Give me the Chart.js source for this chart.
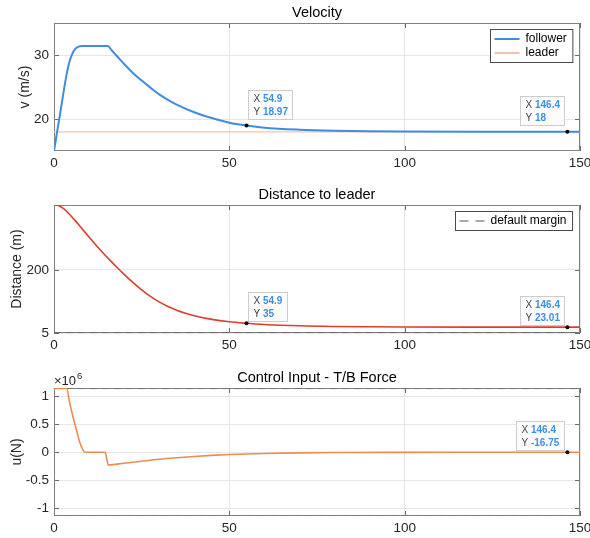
<!DOCTYPE html>
<html>
<head>
<meta charset="utf-8">
<script src="https://cdn.jsdelivr.net/npm/chart.js@4.4.0/dist/chart.umd.min.js"></script>
<style>
  body { margin: 0; background: #fff; }
  .panel { position: absolute; left: 0; width: 590px; }
  canvas { display: block; }
</style>
</head>
<body>
<div class="panel" style="top:0px"><canvas id="velChart" width="590" height="172"></canvas></div>
<div class="panel" style="top:168px"><canvas id="distChart" width="590" height="184"></canvas></div>
<div class="panel" style="top:350px"><canvas id="ctrlChart" width="590" height="188"></canvas></div>
<script>
const xTicks = [0, 50, 100, 150];

// velocity panel
const velTime = [0, 2, 3.5, 4.2, 5, 6, 7, 8, 15.3, 16.5, 18, 20, 22.5, 25, 27.5, 30, 32.5, 35, 40, 45, 50, 54.9, 60, 70, 80, 90, 100, 120, 146.4, 150];
const velFollower = [15, 21.7, 26.7, 28.5, 29.9, 30.9, 31.3, 31.4, 31.4, 30.7, 29.8, 28.6, 27.2, 26.0, 24.9, 23.85, 23.0, 22.25, 21.05, 20.15, 19.42, 18.97, 18.64, 18.33, 18.17, 18.09, 18.05, 18.015, 18, 18];
const leaderTime = [0, 150];
const leaderSpeed = [18, 18];
const velTicks = [20, 30];
const velTipX = [54.9, 146.4];
const velTipY = [18.97, 18];

// distance panel
const distTime = [0, 1, 2, 3, 4, 5, 6, 7, 8, 9, 10, 12, 14, 16, 18, 20, 22.5, 25, 27.5, 30, 32.5, 35, 37.5, 40, 45, 50, 54.9, 60, 70, 80, 90, 100, 120, 146.4, 150];
const distValues = [400, 399, 394, 386.5, 376, 364.5, 352.5, 340, 327, 314, 301, 276, 252, 229, 207, 186, 161, 138, 118, 101, 87, 75.5, 66, 58.5, 47, 39.5, 35, 31.4, 27.2, 25.2, 24.2, 23.6, 23.15, 23.01, 23.0];
const marginTime = [0, 150];
const marginValues = [5, 5];
const distTicks = [5, 200];
const distTipX = [54.9, 146.4];
const distTipY = [35, 23.01];

// control input panel
const ctrlTime = [0, 3.6, 4.5, 5.4, 6.4, 7.3, 8.3, 9.0, 14.6, 15.0, 15.5, 20, 25, 30, 35, 40, 45, 50, 60, 70, 80, 100, 120, 146.4, 150];
const ctrlForce = [1.14e6, 1.14e6, 0.875e6, 0.64e6, 0.40e6, 0.19e6, 0.04e6, 0, 0, -0.1e6, -0.227e6, -0.195e6, -0.16e6, -0.126e6, -0.098e6, -0.075e6, -0.055e6, -0.04e6, -0.021e6, -0.01e6, -0.005e6, -0.0012e6, -0.0003e6, -16.75, -15];
const limitTime = [0, 150];
const forceMax = [1.14e6, 1.14e6];
const forceMin = [-1.14e6, -1.14e6];
const ctrlTicks = [-1e6, -0.5e6, 0, 0.5e6, 1e6];
const ctrlTipX = [146.4];
const ctrlTipY = [-16.75];

const FONT = '"Liberation Sans", Arial, Helvetica, sans-serif';
const zip = (xs, ys) => xs.map((x, i) => ({ x: x, y: ys[i] }));

// boxed axes, inward ticks, titles, legend and data tips like the original figure
const matlabAxes = {
  id: 'matlabAxes',
  beforeDatasetsDraw(chart) {
    const { ctx, chartArea: a } = chart;
    const xs = chart.scales.x, ys = chart.scales.y;
    ctx.save();
    ctx.strokeStyle = '#6a6a6a';
    ctx.lineWidth = 1;
    ctx.beginPath();
    xs.ticks.forEach(t => {
      const p = Math.round(xs.getPixelForValue(t.value)) + 0.5;
      ctx.moveTo(p, a.bottom); ctx.lineTo(p, a.bottom - 5);
      ctx.moveTo(p, a.top); ctx.lineTo(p, a.top + 5);
    });
    ys.ticks.forEach(t => {
      const p = Math.round(ys.getPixelForValue(t.value)) + 0.5;
      ctx.moveTo(a.left, p); ctx.lineTo(a.left + 5, p);
      ctx.moveTo(a.right, p); ctx.lineTo(a.right - 5, p);
    });
    ctx.stroke();
    ctx.strokeStyle = '#808080';
    ctx.strokeRect(a.left + 0.5, a.top + 0.5, a.right - a.left - 1, a.bottom - a.top - 1);
    ctx.restore();
  },
  afterDraw(chart, args, opts) {
    const { ctx, chartArea: a } = chart;
    const xs = chart.scales.x, ys = chart.scales.y;
    ctx.save();

    // title
    ctx.fillStyle = '#000';
    ctx.font = '14.5px ' + FONT;
    ctx.textAlign = 'center';
    ctx.textBaseline = 'middle';
    ctx.fillText(opts.title, (a.left + a.right) / 2, a.top - 10.5);

    // exponent label
    if (opts.exponent) {
      ctx.textAlign = 'left';
      ctx.fillStyle = '#262626';
      ctx.font = '13px ' + FONT;
      ctx.fillText('\u00d710', a.left, a.top - 7);
      const w = ctx.measureText('\u00d710').width;
      ctx.font = '9.5px ' + FONT;
      ctx.fillText(opts.exponent, a.left + w + 1, a.top - 12);
    }

    // legend
    const items = chart.data.datasets.filter(d => d.label);
    if (items.length) {
      ctx.font = '12px ' + FONT;
      const tw = Math.max(...items.map(d => ctx.measureText(d.label).width));
      const bw = 35 + tw + 6, bh = items.length * 14 + 5;
      const bx = Math.round(a.right - 8 - bw) + 0.5, by = Math.round(a.top + 6) + 0.5;
      ctx.fillStyle = '#fff';
      ctx.fillRect(bx, by, bw, bh);
      ctx.strokeStyle = '#4a4a4a';
      ctx.lineWidth = 1;
      ctx.strokeRect(bx, by, bw, bh);
      items.forEach((d, i) => {
        const cy = by + 9.5 + i * 14;
        ctx.save();
        ctx.strokeStyle = d.legendColor || d.borderColor;
        ctx.lineWidth = d.borderWidth;
        ctx.setLineDash(d.borderDash ? [9, 7] : []);
        ctx.beginPath();
        ctx.moveTo(bx + 4, cy); ctx.lineTo(bx + 29, cy);
        ctx.stroke();
        ctx.restore();
        ctx.fillStyle = '#000';
        ctx.textAlign = 'left';
        ctx.textBaseline = 'middle';
        ctx.fillText(d.label, bx + 35, cy);
      });
    }

    // data tips
    (opts.tipX || []).forEach((tx, i) => {
      const ty = opts.tipY[i];
      const px = xs.getPixelForValue(tx), py = ys.getPixelForValue(ty);
      const rows = [['X', String(tx)], ['Y', String(ty)]];
      ctx.font = '10px ' + FONT;
      const pre = ctx.measureText('X ').width;
      ctx.font = 'bold 10px ' + FONT;
      const vw = Math.max(...rows.map(r => ctx.measureText(r[1]).width));
      const w = Math.round(pre + vw + 10), h = 29;
      let bx = px + 1;
      if (bx + w > a.right) bx = px - 3 - w;
      bx = Math.round(bx) + 0.5;
      const by = Math.round(py - opts.tipGap - h) + 0.5;
      ctx.fillStyle = 'rgba(252,252,252,0.95)';
      ctx.fillRect(bx, by, w, h);
      ctx.strokeStyle = '#cdcdcd';
      ctx.lineWidth = 1;
      ctx.strokeRect(bx, by, w, h);
      ctx.textAlign = 'left';
      ctx.textBaseline = 'middle';
      rows.forEach((r, k) => {
        const cy = by + 9 + k * 12.5;
        ctx.font = '10px ' + FONT;
        ctx.fillStyle = '#444';
        ctx.fillText(r[0], bx + 5, cy);
        ctx.font = 'bold 10px ' + FONT;
        ctx.fillStyle = '#3d8fe8';
        ctx.fillText(r[1], bx + 5 + pre, cy);
      });
      ctx.fillStyle = '#000';
      ctx.beginPath();
      ctx.arc(px, py, 2, 0, Math.PI * 2);
      ctx.fill();
    });
    ctx.restore();
  }
};

function makeOptions(cfg) {
  return {
    responsive: false,
    animation: false,
    devicePixelRatio: 1,
    events: [],
    layout: { padding: { top: cfg.top, right: 10, left: 0, bottom: 0 } },
    elements: { point: { radius: 0 } },
    plugins: {
      legend: { display: false },
      tooltip: { enabled: false },
      matlabAxes: { title: cfg.title, exponent: cfg.exponent, tipX: cfg.tipX, tipY: cfg.tipY, tipGap: cfg.tipGap }
    },
    scales: {
      x: {
        type: 'linear',
        min: 0,
        max: 150,
        afterBuildTicks: s => { s.ticks = xTicks.map(v => ({ value: v })); },
        afterFit: s => { s.height = cfg.xHeight; s.paddingLeft = 0; s.paddingRight = 0; },
        grid: { color: '#e6e6e6', drawTicks: false },
        border: { display: false },
        ticks: { padding: 4, color: '#262626', font: { family: FONT, size: 13.5 }, maxRotation: 0 }
      },
      y: {
        min: cfg.yMin,
        max: cfg.yMax,
        afterBuildTicks: s => { s.ticks = cfg.yTicks.map(v => ({ value: v })); },
        afterFit: s => { s.width = 54; s.paddingTop = 0; s.paddingBottom = 0; },
        grid: { color: '#e6e6e6', drawTicks: false },
        border: { display: false },
        ticks: { padding: 5, color: '#262626', font: { family: FONT, size: 13.5 }, callback: cfg.tickFmt || (v => String(v)) },
        title: { display: true, text: cfg.yTitle, color: '#262626', font: { family: FONT, size: 14 }, padding: { top: cfg.titlePad, bottom: 0 } }
      }
    }
  };
}

new Chart(document.getElementById('velChart'), {
  type: 'line',
  data: {
    datasets: [
      { label: 'follower', data: zip(velTime, velFollower), borderColor: 'rgb(64,140,225)', borderWidth: 2, cubicInterpolationMode: 'monotone' },
      { label: 'leader', data: zip(leaderTime, leaderSpeed), borderColor: 'rgb(238,196,170)', legendColor: 'rgb(222,166,132)', borderWidth: 1.3 }
    ]
  },
  options: makeOptions({ top: 23, xHeight: 21, title: 'Velocity', yTitle: 'v (m/s)', titlePad: 16.6,
    yMin: 15, yMax: 35, yTicks: velTicks, tipX: velTipX, tipY: velTipY, tipGap: 7 }),
  plugins: [matlabAxes]
});

new Chart(document.getElementById('distChart'), {
  type: 'line',
  data: {
    datasets: [
      { label: '', data: zip(distTime, distValues), borderColor: 'rgb(220,62,45)', borderWidth: 1.6, cubicInterpolationMode: 'monotone' },
      { label: 'default margin', data: zip(marginTime, marginValues), borderColor: '#555', borderWidth: 1, borderDash: [7, 5] }
    ]
  },
  options: makeOptions({ top: 37, xHeight: 19, title: 'Distance to leader', yTitle: 'Distance (m)', titlePad: 8.6,
    yMin: 5, yMax: 400, yTicks: distTicks, tipX: distTipX, tipY: distTipY, tipGap: 2 }),
  plugins: [matlabAxes]
});

new Chart(document.getElementById('ctrlChart'), {
  type: 'line',
  data: {
    datasets: [
      { label: '', data: zip(ctrlTime, ctrlForce), borderColor: 'rgb(236,140,80)', borderWidth: 1.6, cubicInterpolationMode: 'monotone' },
      { label: '', data: zip(limitTime, forceMax), borderColor: '#707070', borderWidth: 1, borderDash: [7, 5] },
      { label: '', data: zip(limitTime, forceMin), borderColor: '#707070', borderWidth: 1, borderDash: [7, 5] }
    ]
  },
  options: makeOptions({ top: 38, xHeight: 22, title: 'Control Input - T/B Force', yTitle: 'u(N)', titlePad: 8.6,
    yMin: -1.14e6, yMax: 1.15e6, yTicks: ctrlTicks, exponent: '6', tickFmt: v => String(v / 1e6),
    tipX: ctrlTipX, tipY: ctrlTipY, tipGap: 2 }),
  plugins: [matlabAxes]
});
</script>
</body>
</html>
